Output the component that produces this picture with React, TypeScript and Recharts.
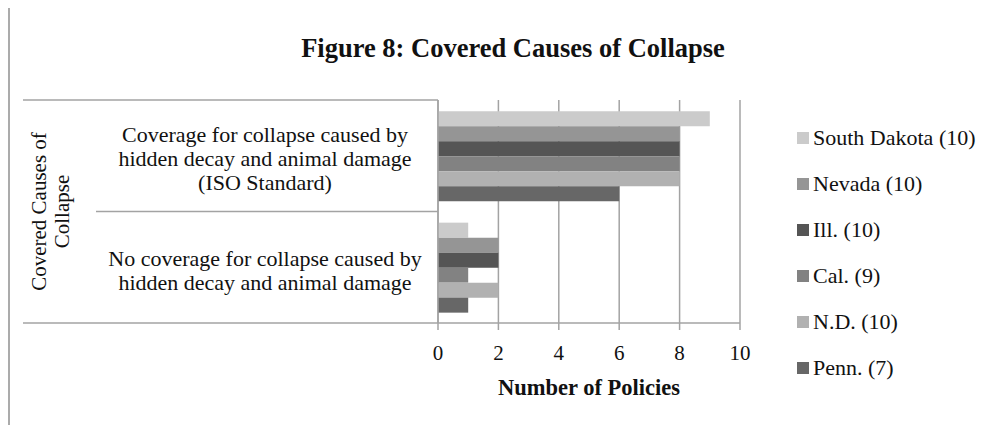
import React from "react"
import { BarChart, Bar, XAxis, YAxis, CartesianGrid, Legend } from "recharts"

const categories = [
  "Coverage for collapse caused by hidden decay and animal damage (ISO Standard)",
  "No coverage for collapse caused by hidden decay and animal damage",
]
const categoryLines = [
  ["Coverage for collapse caused by", "hidden decay and animal damage", "(ISO Standard)"],
  ["No coverage for collapse caused by", "hidden decay and animal damage"],
]
const seriesNames = ["South Dakota (10)", "Nevada (10)", "Ill. (10)", "Cal. (9)", "N.D. (10)", "Penn. (7)"]
const seriesKeys = ["sd", "nv", "il", "ca", "nd", "pa"]
const seriesColors = ["#cbcbcb", "#959595", "#555555", "#828282", "#b1b1b1", "#676767"]
const southDakota = [9, 1]
const nevada = [8, 2]
const illinois = [8, 2]
const california = [8, 1]
const northDakota = [8, 2]
const pennsylvania = [6, 1]
const xTicks = [0, 2, 4, 6, 8, 10]

const seriesValues = [southDakota, nevada, illinois, california, northDakota, pennsylvania]
const data = categories.map((name, i) => {
  const row: Record<string, string | number> = { name }
  seriesKeys.forEach((k, s) => (row[k] = seriesValues[s][i]))
  return row
})

const FONT = "'Liberation Serif', 'Times New Roman', serif"
const LINE = "#a3a3a3"
const W = 1003
const H = 433
const PLOT_LEFT = 438
const PLOT_TOP = 100
const PLOT_BOTTOM = 323
const PLOT_RIGHT = 740
const BAND = (PLOT_BOTTOM - PLOT_TOP) / categories.length

function CategoryTick(props: any) {
  const { y, index } = props
  const lines = categoryLines[index] || []
  const lineH = 24
  const top = y + 3 - ((lines.length - 1) * lineH) / 2
  return (
    <g>
      <line x1={index === 0 ? 23 : 96} x2={PLOT_LEFT} y1={y - BAND / 2} y2={y - BAND / 2} stroke={LINE} strokeWidth={1.5} />
      {index === categories.length - 1 && (
        <line x1={23} x2={PLOT_LEFT} y1={y + BAND / 2} y2={y + BAND / 2} stroke={LINE} strokeWidth={1.5} />
      )}
      {lines.map((t, i) => (
        <text key={i} x={265} y={top + i * lineH} dy="0.35em" textAnchor="middle" fontFamily={FONT} fontSize={22} fill="#111">
          {t}
        </text>
      ))}
    </g>
  )
}

function OuterLabel(props: any) {
  const vb = props.viewBox || { x: 0, y: PLOT_TOP, height: PLOT_BOTTOM - PLOT_TOP }
  const cy = vb.y + vb.height / 2
  const cx = 50
  return (
    <text transform={`translate(${cx}, ${cy}) rotate(-90)`} textAnchor="middle" fontFamily={FONT} fontSize={21} fill="#111">
      <tspan x={0} y={-11.5} dy="0.35em">Covered Causes of</tspan>
      <tspan x={0} y={11.5} dy="0.35em">Collapse</tspan>
    </text>
  )
}

function AxisTitle(props: any) {
  const vb = props.viewBox
  return (
    <text x={vb.x + vb.width / 2} y={vb.y + 64} dy="0.35em" textAnchor="middle" fontFamily={FONT} fontSize={22.5} fontWeight="bold" fill="#111">
      Number of Policies
    </text>
  )
}

function LegendList() {
  return (
    <div style={{ fontFamily: FONT, fontSize: 22, color: "#111" }}>
      {seriesNames.map((n, i) => (
        <div key={n} style={{ height: 46, display: "flex", alignItems: "center" }}>
          <span style={{ width: 12, height: 12, background: seriesColors[i], marginRight: 4, display: "inline-block" }} />
          <span>{n}</span>
        </div>
      ))}
    </div>
  )
}

export default function App() {
  return (
    <div style={{ position: "relative", margin: -8, width: W, height: H, overflow: "hidden", background: "#fff" }}>
      <div style={{ position: "absolute", left: 8, top: 4, width: 1200, height: 800, border: "2px solid #ababab" }} />
      <div
        style={{
          position: "absolute", left: 0, width: 1026, top: 33, lineHeight: "30px", textAlign: "center",
          fontFamily: FONT, fontSize: 26.5, fontWeight: "bold", color: "#111",
        }}
      >
        Figure 8: Covered Causes of Collapse
      </div>
      <BarChart
        width={W}
        height={H}
        data={data}
        layout="vertical"
        barCategoryGap="10%"
        barGap={0}
        margin={{ top: PLOT_TOP, right: W - PLOT_RIGHT, bottom: 30, left: 0 }}
        style={{ position: "absolute", left: 0, top: 0 }}
      >
        <CartesianGrid horizontal={false} stroke={LINE} strokeWidth={1.5} />
        <XAxis
          type="number"
          domain={[0, 10]}
          ticks={xTicks}
          height={H - PLOT_BOTTOM - 30}
          tickSize={7}
          tickMargin={15}
          axisLine={{ stroke: LINE, strokeWidth: 1.5 }}
          tickLine={{ stroke: LINE, strokeWidth: 1.5 }}
          tick={{ fontFamily: FONT, fontSize: 21, fill: "#111" }}
          label={<AxisTitle />}
        />
        <YAxis
          type="category"
          dataKey="name"
          width={PLOT_LEFT}
          axisLine={{ stroke: LINE, strokeWidth: 1.5 }}
          tickLine={false}
          tick={<CategoryTick />}
          label={<OuterLabel />}
        />
        <Legend
          layout="vertical"
          align="center"
          verticalAlign="middle"
          wrapperStyle={{ left: 797, top: 115, width: 206 }}
          content={() => <LegendList />}
        />
        {seriesKeys.map((k, i) => (
          <Bar key={k} dataKey={k} name={seriesNames[i]} fill={seriesColors[i]} isAnimationActive={false} />
        ))}
      </BarChart>
    </div>
  )
}
